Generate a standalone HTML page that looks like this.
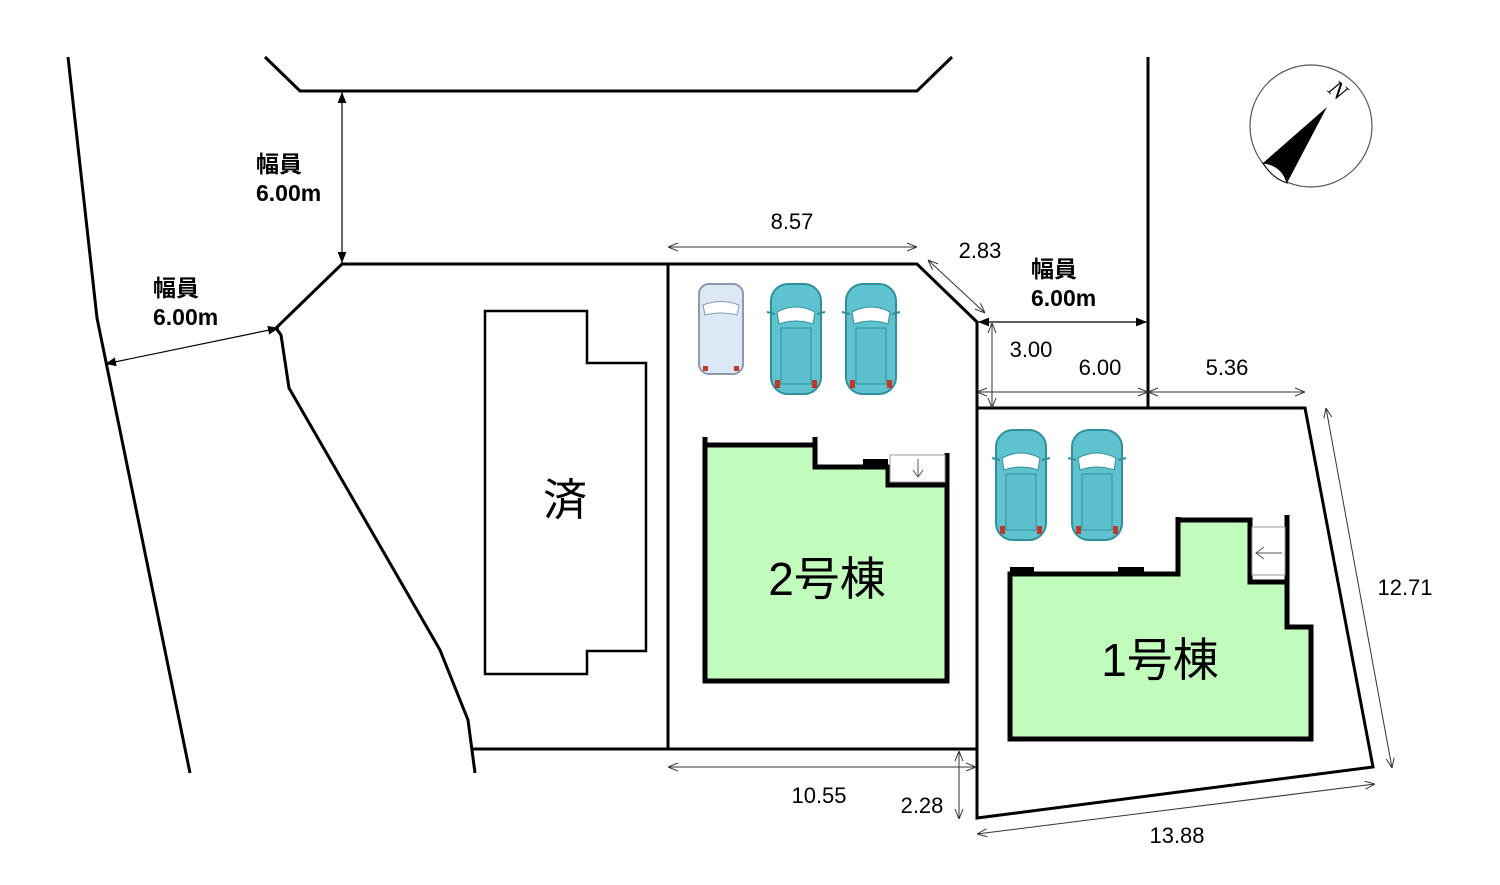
<!DOCTYPE html>
<html><head><meta charset="utf-8"><style>
html,body{margin:0;padding:0;background:#fff;}
svg{display:block;font-family:"Liberation Sans","Noto Sans CJK JP",sans-serif;}
</style></head><body>
<svg width="1500" height="885" viewBox="0 0 1500 885" xmlns="http://www.w3.org/2000/svg">
<defs>
<marker id="o" viewBox="0 0 10 10" refX="10" refY="5" markerWidth="10" markerHeight="10" orient="auto-start-reverse" markerUnits="userSpaceOnUse">
<path d="M0,1 L10,5 L0,9" fill="none" stroke="#333" stroke-width="1"/></marker>
<marker id="f" viewBox="0 0 10 10" refX="10" refY="5" markerWidth="11" markerHeight="11" orient="auto-start-reverse" markerUnits="userSpaceOnUse">
<path d="M0,1 L10,5 L0,9 Z" fill="#000"/></marker>
<g id="tcar">
<rect x="0" y="0" width="50" height="110" rx="17" fill="#5fc3cf" stroke="#2f8f9c" stroke-width="2"/>
<path d="M6,28 Q25,18 44,28 L42,40 Q25,34 8,40 Z" fill="#fff" stroke="#2f8f9c"/>
<rect x="10" y="44" width="30" height="56" fill="#5cc0cc" stroke="#2f8f9c"/>
<rect x="4" y="96" width="5" height="8" fill="#c0392b"/><rect x="41" y="96" width="5" height="8" fill="#c0392b"/>
<path d="M-4,28 L4,30 M54,28 L46,30" stroke="#2f8f9c" stroke-width="2"/>
</g>
</defs>
<g fill="none" stroke="#000" stroke-width="3">
<polyline points="68,57 97,318 190,773"/>
<polyline points="265,57 300,91 917,91 952,57"/>
<polyline points="475,773 468,720 440,650 289,388 281,335 276,328 342,264 917,264 977,322 977,818 1373,767 1305,408 977,408"/>
<line x1="473" y1="749" x2="977" y2="749"/>
<line x1="668" y1="264" x2="668" y2="749"/>
<line x1="1148" y1="57" x2="1148" y2="408"/>
</g>
<polygon points="485,311 587,311 587,363 646,363 646,651 587,651 587,674 485,674" fill="#fff" stroke="#000" stroke-width="2.5"/>
<text x="565" y="515" font-size="44" text-anchor="middle">済</text>
<!-- building 2 -->
<polygon points="705,445 815,445 815,467 888,467 888,485 947,485 947,681 705,681" fill="#c2fcbc" stroke="#000" stroke-width="5"/>
<path d="M705,437V445 M815,437V445 M947,453V485" stroke="#000" stroke-width="5"/>
<rect x="863" y="459" width="25" height="8" fill="#000"/>
<rect x="890" y="455" width="55" height="27" fill="#fff" stroke="#999"/>
<path d="M918,459V477 M913,470L918,477L923,470" fill="none" stroke="#555"/>
<text x="827" y="595" font-size="46" text-anchor="middle">2号棟</text>
<!-- building 1 -->
<polygon points="1010,574 1178,574 1178,520 1250,520 1250,582 1287,582 1287,627 1311,627 1311,739 1010,739" fill="#c2fcbc" stroke="#000" stroke-width="5"/>
<path d="M1178,517V520 M1287,515V582" stroke="#000" stroke-width="5"/>
<rect x="1010" y="567" width="24" height="8" fill="#000"/><rect x="1118" y="567" width="26" height="8" fill="#000"/>
<rect x="1252" y="527" width="33" height="48" fill="#fff" stroke="#999"/>
<path d="M1282,553H1256 M1264,547L1256,553L1264,559" fill="none" stroke="#555"/>
<text x="1160" y="676" font-size="46" text-anchor="middle">1号棟</text>
<!-- cars -->
<rect x="699" y="284" width="44" height="90" rx="10" fill="#dce8f6" stroke="#8a9aae" stroke-width="2"/>
<path d="M703,305 Q721,298 739,305 L737,315 Q721,311 705,315Z" fill="#fff" stroke="#8a9aae"/>
<rect x="703" y="366" width="5" height="5" fill="#c0392b"/><rect x="734" y="366" width="5" height="5" fill="#c0392b"/>
<use href="#tcar" x="771" y="284"/>
<use href="#tcar" x="846" y="284"/>
<use href="#tcar" x="996" y="430"/>
<use href="#tcar" x="1072" y="430"/>
<!-- dims -->
<g stroke="#333" stroke-width="1" fill="none">
<line x1="668" y1="247" x2="917" y2="247" marker-start="url(#o)" marker-end="url(#o)"/>
<line x1="928" y1="260" x2="985" y2="313" marker-start="url(#o)" marker-end="url(#o)"/>
<line x1="992" y1="323" x2="992" y2="408" marker-start="url(#o)" marker-end="url(#o)"/>
<line x1="977" y1="392" x2="1148" y2="392" marker-start="url(#o)" marker-end="url(#o)"/>
<line x1="1148" y1="392" x2="1305" y2="392" marker-start="url(#o)" marker-end="url(#o)"/>
<line x1="1326" y1="408" x2="1392" y2="768" marker-start="url(#o)" marker-end="url(#o)"/>
<line x1="977" y1="834" x2="1375" y2="784" marker-start="url(#o)" marker-end="url(#o)"/>
<line x1="668" y1="767" x2="976" y2="767" marker-start="url(#o)" marker-end="url(#o)"/>
<line x1="959" y1="751" x2="959" y2="819" marker-start="url(#o)" marker-end="url(#o)"/>
</g>
<g stroke="#000" stroke-width="1.2">
<line x1="342" y1="92" x2="342" y2="263" marker-start="url(#f)" marker-end="url(#f)"/>
<line x1="105" y1="364" x2="279" y2="328" marker-start="url(#f)" marker-end="url(#f)"/>
<line x1="978" y1="322" x2="1147" y2="322" marker-start="url(#f)" marker-end="url(#f)"/>
</g>
<g font-size="22" fill="#000">
<text x="792" y="229" text-anchor="middle">8.57</text>
<text x="980" y="258" text-anchor="middle">2.83</text>
<text x="1031" y="357" text-anchor="middle">3.00</text>
<text x="1100" y="375" text-anchor="middle">6.00</text>
<text x="1227" y="375" text-anchor="middle">5.36</text>
<text x="1405" y="595" text-anchor="middle">12.71</text>
<text x="1177" y="843" text-anchor="middle">13.88</text>
<text x="819" y="803" text-anchor="middle">10.55</text>
<text x="922" y="813" text-anchor="middle">2.28</text>
</g>
<g font-size="23" font-weight="bold" fill="#000">
<text x="256" y="172">幅員</text><text x="256" y="201">6.00m</text>
<text x="153" y="296">幅員</text><text x="153" y="325">6.00m</text>
<text x="1031" y="277">幅員</text><text x="1031" y="306">6.00m</text>
</g>
<!-- compass -->
<circle cx="1311" cy="126" r="61" fill="#fff" stroke="#555" stroke-width="1.2"/>
<path d="M1327,107 L1263,163 Q1282,165 1287,183 Z" fill="#000"/>
<path d="M1263,163 Q1282,165 1287,183 Q1272,178 1263,163Z" fill="#fff" stroke="#000"/>
<text x="1338" y="98" font-size="24" font-family="Liberation Serif,serif" font-style="italic" transform="rotate(40 1338 90)" text-anchor="middle">N</text>
</svg>
</body></html>
